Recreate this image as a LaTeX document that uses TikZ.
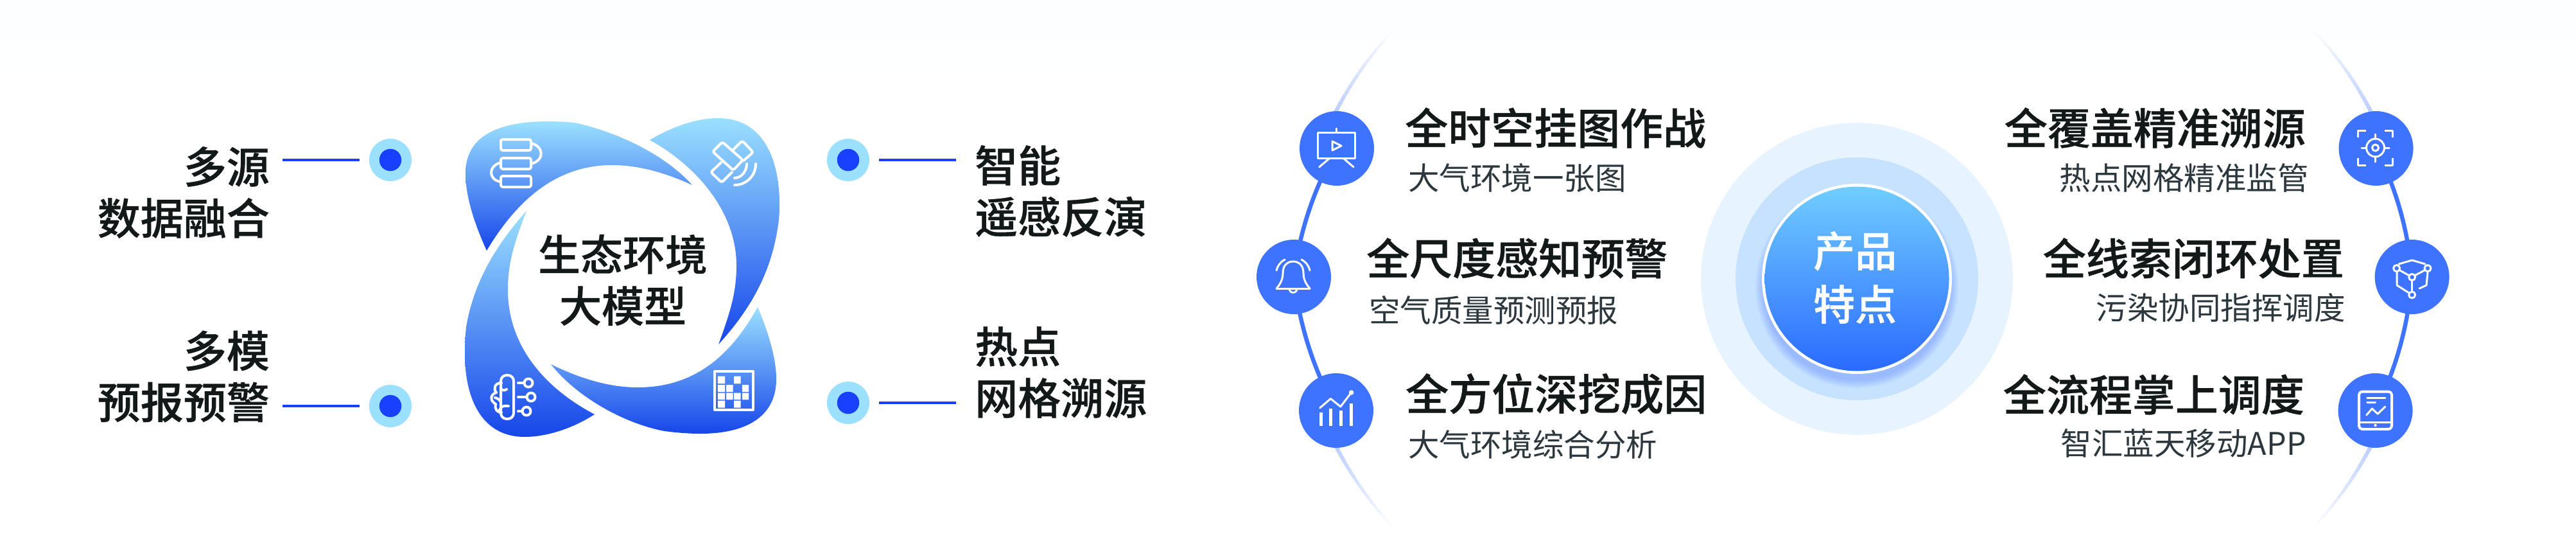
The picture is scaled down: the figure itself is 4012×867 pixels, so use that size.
\documentclass[tikz,border=0pt]{standalone}
\usepackage{fontspec}
\newfontfamily\cjkm[FakeBold=0.6]{Noto Sans CJK SC Medium}
\newfontfamily\cjkr{Noto Sans CJK SC}
\usetikzlibrary{calc}
\definecolor{inkdark}{HTML}{131819}
\definecolor{inksub}{HTML}{2C383E}
\definecolor{arcblue}{HTML}{3D73FF}
\definecolor{deepblue}{HTML}{1646EA}
\definecolor{skyblue}{HTML}{9BE0FF}
\definecolor{dotblue}{HTML}{1A40FF}
\definecolor{haloa}{HTML}{E7F4FF}
\definecolor{halob}{HTML}{C7E2FF}
\definecolor{coretop}{HTML}{70CDFF}
\definecolor{corebot}{HTML}{2A6AFF}
\definecolor{glow}{HTML}{5C86FF}
\definecolor{bgtop}{HTML}{FCFEFF}
\tikzset{
  x=1pt,y=-1pt,
  petal/.style={top color=skyblue,bottom color=deepblue,draw=none},
  dotouter/.style={circle,fill=skyblue,minimum size=66pt,inner sep=0pt},
  dotinner/.style={circle,fill=dotblue,minimum size=34.5pt,inner sep=0pt},
  conn/.style={draw=dotblue,line width=3.5pt},
  biglabel/.style={inner sep=0pt,text=inkdark,font=\fontsize{67}{80}\selectfont\cjkm},
  titletext/.style={inner sep=0pt,text=inkdark,font=\fontsize{67}{80}\selectfont\cjkm},
  subtext/.style={inner sep=0pt,text=inksub,font=\fontsize{48.5}{58}\selectfont\cjkr},
  badge/.style={circle,fill=arcblue,minimum size=116pt,inner sep=0pt},
  arcline/.style={draw=arcblue,line width=6.5pt,looseness=0.88},
  icon/.style={draw=white,line width=3pt,line cap=round,line join=round},
  iconb/.style={draw=white,line width=4pt,line cap=round,line join=round},
}
\begin{document}
\begin{tikzpicture}
\useasboundingbox (0,0) rectangle (4012,867);
\fill[white] (0,0) rectangle (4012,867);
\shade[top color=bgtop,bottom color=white,draw=none] (0,0) rectangle (4012,120);

% left block: labels, dots, connectors
\node[biglabel,anchor=east,align=right] (lab1) at (420,299.5) {多源\\数据融合};
\node[biglabel,anchor=east,align=right] (lab2) at (420,586) {多模\\预报预警};
\node[biglabel,anchor=west,align=left] (lab3) at (1518,297.5) {智能\\遥感反演};
\node[biglabel,anchor=west,align=left] (lab4) at (1518,579.5) {热点\\网格溯源};
\foreach \n/\x/\y in {d1/608/249,d2/608/632,d3/1321/249,d4/1321/627}{
  \node[dotouter] (\n o) at (\x,\y) {};
  \node[dotinner] (\n) at (\x,\y) {};
}
\coordinate (s1) at (440,249); \coordinate (e1) at (560,249);
\coordinate (s2) at (440,632); \coordinate (e2) at (560,632);
\coordinate (s3) at (1369,249); \coordinate (e3) at (1489,249);
\coordinate (s4) at (1369,627); \coordinate (e4) at (1489,627);
\draw[conn] (s1)--(e1); \draw[conn] (s2)--(e2); \draw[conn] (s3)--(e3); \draw[conn] (s4)--(e4);

% petals
\shade[petal] (758,390) .. controls (735,340) and (725,300) .. (725,270)
  .. controls (725,215) and (770,189) .. (854,189)
  .. controls (870,189) and (885,190) .. (895,191)
  .. controls (960,205) and (1035,240) .. (1078,288)
  .. controls (1030,266) and (990,257) .. (953,257)
  .. controls (860,257) and (800,320) .. (758,390) -- cycle;
\shade[petal] (1012,218) .. controls (1050,195) and (1090,183) .. (1122,184)
  .. controls (1190,186) and (1214,250) .. (1214,317)
  .. controls (1214,335) and (1213,345) .. (1211,356)
  .. controls (1200,425) and (1170,480) .. (1119,536)
  .. controls (1140,480) and (1147,450) .. (1147,413)
  .. controls (1147,330) and (1085,258) .. (1012,218) -- cycle;
\shade[petal] (1180,478) .. controls (1198,520) and (1209,560) .. (1209,590)
  .. controls (1209,650) and (1160,675) .. (1091,675)
  .. controls (1070,675) and (1050,673) .. (1035,671)
  .. controls (975,660) and (900,620) .. (858,567)
  .. controls (905,590) and (950,603) .. (993,603)
  .. controls (1085,603) and (1140,550) .. (1180,478) -- cycle;
\shade[petal] (926,645) .. controls (890,668) and (850,680) .. (817,680)
  .. controls (750,680) and (724,620) .. (724,551)
  .. controls (724,530) and (725,520) .. (726,509)
  .. controls (738,440) and (770,385) .. (820,328)
  .. controls (800,380) and (791,410) .. (791,451)
  .. controls (791,540) and (850,605) .. (926,645) -- cycle;
\node[inner sep=0pt,text=inkdark,font=\fontsize{66}{80}\selectfont\cjkm,align=center] (core) at (970,436) {生态环境\\大模型};

% petal icons
\draw[iconb,rounded corners=3pt] (780,217) rectangle (827,234);
\draw[iconb,rounded corners=3pt] (780,246) rectangle (827,263);
\draw[iconb,rounded corners=3pt] (780,274) rectangle (827,291);
\draw[iconb] (827,223) .. controls (848,228) and (848,250) .. (827,255);
\draw[iconb] (780,253) .. controls (760,258) and (760,280) .. (780,283);
\draw[iconb,rounded corners=3pt] (1125,221) -- (1110,236) -- (1142,265) -- (1157,249) -- cycle;
\draw[iconb,rounded corners=3pt] (1141,234) -- (1156,219) -- (1173,237) -- (1158,250);
\draw[iconb,rounded corners=3pt] (1123,253) -- (1107,268) -- (1124,284) -- (1140,268);
\draw[iconb] (1163,255) .. controls (1163,266) and (1155,277) .. (1144,277);
\draw[iconb] (1177,255) .. controls (1177,274) and (1162,288) .. (1144,288);
\draw[iconb,rounded corners=9pt] (780,584) rectangle (800,652);
\draw[iconb] (781,596) .. controls (770,596) and (768,606) .. (773,611);
\draw[iconb] (773,611) .. controls (763,614) and (763,624) .. (772,629);
\draw[iconb] (772,629) .. controls (770,638) and (775,642) .. (781,642);
\draw[iconb] (781,606) .. controls (784,608) and (787,608) .. (789,606);
\draw[iconb] (771,619) .. controls (775,620) and (778,622) .. (780,625);
\draw[iconb] (778,638) .. controls (780,632) and (786,631) .. (792,632);
\foreach \yy/\xx in {596/823,618/827,640/820}{
  \draw[iconb] (\xx,\yy) circle[radius=6.5];
  \draw[iconb] (807,\yy) -- ($(\xx,\yy)+(-6.5,0)$);
}
\draw[iconb] (1113,578) rectangle (1173,638);
\fill[white] (1118,585.5) rectangle (1129,597) (1143,585.5) rectangle (1153.5,597)
 (1118,599) rectangle (1129,610) (1131,599) rectangle (1141.5,610) (1156,599) rectangle (1166,610)
 (1118,611.5) rectangle (1129,622) (1131,611.5) rectangle (1141.5,622) (1143,611.5) rectangle (1153.5,622) (1156,611.5) rectangle (1166,622)
 (1118,623.5) rectangle (1129,634.5) (1143,623.5) rectangle (1153.5,634.5);

% central discs
\node[circle,fill=haloa,minimum size=485.6pt,inner sep=0pt] (disc1) at (2892,434) {};
\node[circle,fill=halob,minimum size=378pt,inner sep=0pt] (disc2) at (2892,434) {};
\begin{scope}
  \clip (2892,434) circle[radius=189];
  \foreach \r in {146,148,...,158}{
    \fill[glow,opacity=0.07] (2892,446) circle[radius=\r];
  }
\end{scope}
\node[circle,fill=white,minimum size=296pt,inner sep=0pt] (ring) at (2892,434) {};
\node[circle,top color=coretop,bottom color=corebot,minimum size=287pt,inner sep=0pt] (coredisc) at (2892,434) {};
\node[inner sep=0pt,text=white,font=\fontsize{65}{83}\selectfont\cjkm,align=center] (corelabel) at (2889,432) {产品\\特点};

% arcs, left and right
\coordinate (c1) at (2082,231);
\coordinate (c2) at (2015,431);
\coordinate (c3) at (2081,639);
\coordinate (r1) at (3700.5,231);
\coordinate (r2) at (3756.6,431);
\coordinate (r3) at (3699.5,639);
\draw[arcline] (c1) to[bend right=11] (c2);
\draw[arcline] (c2) to[bend right=11] (c3);
\draw[arcline] (r1) to[bend left=11] (r2);
\draw[arcline] (r2) to[bend left=11] (r3);
\foreach \a in {0,1,...,21}{
  \pgfmathsetmacro\p{45*(1-\a/21)}
  \pgfmathsetmacro\w{7-4*\a/21}
  \pgfmathsetmacro\u{\a+0.0}
  \pgfmathsetmacro\v{\a+1.2}
  \draw[line width=\w pt,draw=arcblue!\p!white] ({2583+566*cos(202+\u)},{434+566*sin(202+\u)}) -- ({2583+566*cos(202+\v)},{434+566*sin(202+\v)});
  \draw[line width=\w pt,draw=arcblue!\p!white] ({2583+566*cos(158-\u)},{434+566*sin(158-\u)}) -- ({2583+566*cos(158-\v)},{434+566*sin(158-\v)});
  \draw[line width=\w pt,draw=arcblue!\p!white] ({3190+566*cos(-22-\u)},{434+566*sin(-22-\u)}) -- ({3190+566*cos(-22-\v)},{434+566*sin(-22-\v)});
  \draw[line width=\w pt,draw=arcblue!\p!white] ({3190+566*cos(22+\u)},{434+566*sin(22+\u)}) -- ({3190+566*cos(22+\v)},{434+566*sin(22+\v)});
}
\node[badge] (bc1) at (c1) {};
\node[badge] (bc2) at (c2) {};
\node[badge] (bc3) at (c3) {};
\node[badge] (br1) at (r1) {};
\node[badge] (br2) at (r2) {};
\node[badge] (br3) at (r3) {};

% texts, left side
\node[titletext,anchor=west] (t1) at (2188,199) {全时空挂图作战};
\node[subtext,anchor=west] (u1) at (2193,277) {大气环境一张图};
\node[titletext,anchor=west] (t2) at (2128,402) {全尺度感知预警};
\node[subtext,anchor=west] (u2) at (2132,483) {空气质量预测预报};
\node[titletext,anchor=west] (t3) at (2189,613) {全方位深挖成因};
\node[subtext,anchor=west] (u3) at (2193,692) {大气环境综合分析};
% texts, right side
\node[titletext,anchor=east] (t4) at (3591,199) {全覆盖精准溯源};
\node[subtext,anchor=east] (u4) at (3596,277) {热点网格精准监管};
\node[titletext,anchor=east] (t5) at (3651,402) {全线索闭环处置};
\node[subtext,anchor=east] (u5) at (3653,479) {污染协同指挥调度};
\node[titletext,anchor=east] (t6) at (3589,614) {全流程掌上调度};
\node[subtext,anchor=east] (u6) at (3592,690) {智汇蓝天移动APP};

% badge icons, left
\draw[icon] (2052,206) rectangle (2110.7,246);
\draw[icon] (2081,200) -- (2081,206);
\draw[icon] (2070,247) -- (2054.6,260);
\draw[icon] (2093,247) -- (2108,260);
\draw[icon] (2075,220) -- (2089,227) -- (2075,234) -- cycle;
\draw[icon] (1988,449) -- (2040,449);
\draw[icon] (1988,449) .. controls (1996,440) and (1998,432) .. (1998,425) .. controls (1998,412) and (2006,407) .. (2014,407) .. controls (2022,407) and (2030,412) .. (2030,425) .. controls (2030,432) and (2032,440) .. (2040,449);
\draw[icon] (2008,451) .. controls (2010,457) and (2018,457) .. (2020,451);
\draw[icon] (1988,421) .. controls (1990,413) and (1995,407) .. (2001,404);
\draw[icon] (2027,404) .. controls (2033,407) and (2038,413) .. (2040,421);
\foreach \x/\t in {2057/641.6,2072.5/636,2088/639,2104.6/628}{
  \draw[draw=white,line width=5pt] (\x,662.6) -- (\x,\t);
}
\draw[icon] (2055.6,635) -- (2072.4,620.5) -- (2087.8,633) -- (2104.6,611);
\fill[white] (2104.6,611) circle[radius=3.8];

% badge icons, right
\draw[icon,line cap=butt] (3672.4,214) -- (3672.4,203.5) -- (3685,203.5);
\draw[icon,line cap=butt] (3714,203.5) -- (3726.5,203.5) -- (3726.5,214);
\draw[icon,line cap=butt] (3672.4,246) -- (3672.4,257) -- (3685,257);
\draw[icon,line cap=butt] (3714,257) -- (3726.5,257) -- (3726.5,246);
\draw[icon] (3699.5,230) circle[radius=14];
\draw[icon] (3699.5,230) circle[radius=5];
\draw[icon] (3678,230) -- (3685.5,230);
\draw[icon] (3713.5,230) -- (3721,230);
\draw[icon] (3699.5,209) -- (3699.5,216);
\draw[icon] (3699.5,244) -- (3699.5,252);
\foreach \x/\y in {3732.6/417.6,3781/417.6,3756.6/431.4,3756.6/459}{
  \draw[icon] (\x,\y) circle[radius=5];
}
\draw[icon] (3736,411) -- (3756.6,405) -- (3777,411);
\draw[icon] (3737,420.5) -- (3751.5,428.5);
\draw[icon] (3776.5,420.5) -- (3761.5,428.5);
\draw[icon] (3756.6,436.5) -- (3756.6,454);
\draw[icon] (3733,423) -- (3733,444) -- (3752,456);
\draw[icon] (3781,423) -- (3779,444) -- (3768,449);
\draw[icon,line width=4pt,rounded corners=5pt] (3674,609.5) rectangle (3725,668);
\draw[icon] (3674,657) -- (3725,657);
\fill[white] (3699.5,662) circle[radius=2.2];
\draw[icon] (3686.7,619.5) -- (3714.8,619.5);
\draw[icon] (3686.7,626.6) -- (3699.5,626.6);
\draw[icon] (3685.7,646) -- (3694.4,636) -- (3703,644.3) -- (3714.8,633);
\end{tikzpicture}
\end{document}
